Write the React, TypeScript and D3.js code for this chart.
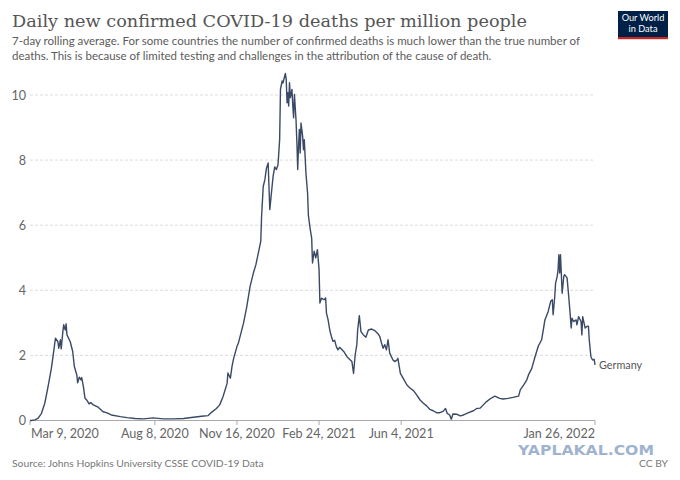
import React, { useRef, useEffect } from "react";
import * as d3 from "d3";

// days after Mar 9, 2020 and the 7-day average
const dayOffsets = [
  0, 2, 6, 10, 14, 18, 22, 26, 28, 31, 34, 35, 37, 38, 40, 41, 43, 44, 45, 49,
  52, 54, 57, 58, 60, 62, 63, 65, 67, 69, 72, 74, 77, 83, 89, 93, 99, 110, 118, 128,
  138, 150, 162, 175, 187, 199, 209, 217, 221, 227, 231, 235, 240, 241, 244, 246, 248, 252, 254, 260,
  264, 268, 272, 275, 278, 281, 282, 284, 286, 288, 290, 291, 292, 294, 296, 298, 300, 302, 304, 305,
  307, 308, 311, 312, 313, 314, 315, 316, 317, 319, 320, 321, 322, 324, 325, 326, 327, 328, 329, 330,
  332, 333, 334, 336, 338, 339, 341, 343, 344, 346, 348, 350, 352, 353, 355, 358, 360, 361, 363, 365,
  367, 369, 371, 373, 375, 377, 382, 386, 390, 392, 394, 396, 398, 399, 401, 403, 406, 409, 412, 416,
  420, 424, 426, 428, 430, 432, 434, 436, 438, 442, 444, 447, 448, 451, 455, 459, 463, 467, 471, 475,
  479, 483, 487, 491, 495, 499, 503, 506, 508, 511, 513, 515, 520, 524, 528, 534, 540, 544, 548, 552,
  556, 560, 566, 572, 576, 582, 588, 595, 597, 601, 605, 607, 611, 615, 619, 623, 625, 627, 631, 634,
  636, 637, 639, 640, 642, 643, 644, 645, 646, 648, 650, 651, 654, 656, 658, 659, 660, 662, 665, 666,
  668, 671, 672, 673, 676, 678, 680, 681, 683, 685, 687, 688,
];

const deaths = [
  0, 0, 0.02, 0.07, 0.22, 0.53, 1.04, 1.6, 1.96, 2.53, 2.42, 2.22, 2.48, 2.2, 2.73, 2.94, 2.78, 2.97, 2.63, 2.42,
  2.12, 1.66, 1.4, 1.16, 1.33, 1.25, 1.32, 1.04, 0.68, 0.63, 0.51, 0.55, 0.48, 0.41, 0.27, 0.24, 0.17, 0.12, 0.09, 0.06,
  0.05, 0.08, 0.05, 0.05, 0.06, 0.1, 0.13, 0.15, 0.25, 0.37, 0.48, 0.73, 1.14, 1.46, 1.3, 1.66, 1.91, 2.27, 2.4, 2.99,
  3.5, 4.12, 4.53, 4.78, 5.14, 5.5, 6.27, 7.19, 7.4, 7.76, 7.91, 7.19, 6.48, 6.99, 7.5, 7.79, 7.71, 7.86, 8.63, 10.17,
  10.43, 10.37, 10.66, 10.48, 9.76, 10.07, 9.66, 10.38, 9.92, 10.17, 9.66, 9.3, 10.02, 9.2, 8.53, 7.71, 8.43, 8.94, 8.22, 9.14,
  8.73, 8.32, 8.63, 7.6, 6.99, 6.3, 5.91, 5.6, 4.84, 5.2, 5.0, 5.25, 4.63, 3.61, 3.76, 3.71, 3.76, 3.3, 3.09, 2.78,
  2.58, 2.43, 2.46, 2.27, 2.17, 2.25, 2.12, 1.96, 1.86, 1.81, 1.45, 2.02, 2.33, 2.78, 3.22, 2.73, 2.63, 2.56, 2.78, 2.81,
  2.76, 2.66, 2.58, 2.38, 2.22, 2.33, 2.17, 2.48, 2.07, 1.86, 1.81, 1.86, 1.91, 1.45, 1.27, 1.09, 0.99, 0.92, 0.78, 0.63,
  0.53, 0.45, 0.34, 0.3, 0.24, 0.24, 0.28, 0.37, 0.22, 0.17, 0.04, 0.2, 0.19, 0.14, 0.17, 0.24, 0.3, 0.37, 0.38, 0.48,
  0.58, 0.66, 0.75, 0.68, 0.66, 0.68, 0.71, 0.75, 0.94, 1.09, 1.25, 1.4, 1.6, 1.96, 2.29, 2.48, 2.78, 3.09, 3.35, 3.66,
  3.71, 3.25, 3.81, 4.22, 4.43, 4.63, 5.09, 4.53, 5.09, 3.91, 4.43, 4.48, 4.38, 3.81, 3.19, 2.84, 3.14, 3.04, 3.09, 2.94,
  3.19, 3.04, 2.63, 3.19, 2.84, 2.89, 2.9, 2.48, 1.96, 1.86, 1.88, 1.71,
];

const yTicks = [0, 2, 4, 6, 8, 10];
const xTickDates = ["2020-03-09", "2020-08-08", "2020-11-16", "2021-02-24", "2021-06-04", "2022-01-26"];

const title = "Daily new confirmed COVID-19 deaths per million people";
const subtitleLines = [
  "7-day rolling average. For some countries the number of confirmed deaths is much lower than the true number of",
  "deaths. This is because of limited testing and challenges in the attribution of the cause of death.",
];
const source = "Source: Johns Hopkins University CSSE COVID-19 Data";

const W = 680;
const H = 480;
const sans = "Lato, 'Noto Sans', sans-serif";

const parseDay = d3.timeParse("%Y-%m-%d");

const App = () => {
  const divRef = useRef<HTMLDivElement>(null);

  useEffect(() => {
    const root = d3.select(divRef.current);
    root.selectAll("*").remove();

    const svg = root
      .append("svg")
      .attr("width", W)
      .attr("height", H)
      .style("position", "absolute")
      .style("left", "0px")
      .style("top", "0px")
      .style("background", "#fff");

    const start = parseDay(xTickDates[0]) as Date;
    const end = parseDay(xTickDates[xTickDates.length - 1]) as Date;

    const x = d3.scaleTime().domain([start, end]).range([30, 595]);
    const y = d3.scaleLinear().domain([0, 10]).range([420.5, 95]);

    // header
    svg
      .append("text")
      .attr("x", 12)
      .attr("y", 27)
      .attr("font-family", "'DejaVu Serif', serif")
      .attr("font-size", 17.5)
      .attr("fill", "#555")
      .attr("textLength", 515)
      .attr("lengthAdjust", "spacingAndGlyphs")
      .text(title);

    svg
      .selectAll(".sub")
      .data(subtitleLines)
      .join("text")
      .attr("x", 12)
      .attr("y", (_, i) => 45 + i * 14.5)
      .attr("font-family", sans)
      .attr("font-size", 11.5)
      .attr("fill", "#5b5b5b")
      .text((d) => d);

    // logo
    const logo = svg.append("g");
    logo.append("rect").attr("x", 618).attr("y", 11).attr("width", 50).attr("height", 28).attr("fill", "#002147");
    logo.append("rect").attr("x", 618).attr("y", 37).attr("width", 50).attr("height", 2.2).attr("fill", "#ce261e");
    logo
      .selectAll(".lg")
      .data(["Our World", "in Data"])
      .join("text")
      .attr("x", 643)
      .attr("y", (_, i) => 21 + i * 10.5)
      .attr("text-anchor", "middle")
      .attr("font-family", sans)
      .attr("font-size", 9.2)
      .attr("fill", "#fff")
      .text((d) => d);

    // grid + y labels
    svg
      .selectAll(".grid")
      .data(yTicks.filter((t) => t > 0))
      .join("line")
      .attr("x1", 30)
      .attr("x2", 595)
      .attr("y1", (d) => y(d))
      .attr("y2", (d) => y(d))
      .attr("stroke", "#ddd")
      .attr("stroke-dasharray", "3,2");

    svg
      .selectAll(".ylab")
      .data(yTicks)
      .join("text")
      .attr("x", 26)
      .attr("y", (d) => y(d))
      .attr("dy", "0.36em")
      .attr("text-anchor", "end")
      .attr("font-family", sans)
      .attr("font-size", 12.6)
      .attr("fill", "#666")
      .text((d) => d);

    // x axis
    svg.append("line").attr("x1", 30).attr("x2", 595).attr("y1", 420.5).attr("y2", 420.5).attr("stroke", "#aaa");

    const tickDates = xTickDates.map((s) => parseDay(s) as Date);
    const fmt = d3.timeFormat("%b %-d, %Y");

    svg
      .selectAll(".xt")
      .data(tickDates)
      .join("line")
      .attr("x1", (d) => x(d))
      .attr("x2", (d) => x(d))
      .attr("y1", 420.5)
      .attr("y2", 425)
      .attr("stroke", "#aaa");

    svg
      .selectAll(".xl")
      .data(tickDates)
      .join("text")
      .attr("x", (d, i) => (i === 0 ? x(d) + 1 : x(d)))
      .attr("y", 438)
      .attr("text-anchor", (_, i) => (i === 0 ? "start" : i === tickDates.length - 1 ? "end" : "middle"))
      .attr("font-family", sans)
      .attr("font-size", 12.6)
      .attr("fill", "#666")
      .text((d) => fmt(d));

    // the line
    const pts = dayOffsets.map((d, i) => ({ date: d3.timeDay.offset(start, d), v: deaths[i] }));
    const line = d3
      .line<{ date: Date; v: number }>()
      .x((d) => x(d.date))
      .y((d) => y(d.v));

    svg
      .append("path")
      .datum(pts)
      .attr("d", line)
      .attr("fill", "none")
      .attr("stroke", "#3a4a66")
      .attr("stroke-width", 1.4)
      .attr("stroke-linejoin", "round");

    const last = pts[pts.length - 1];
    svg
      .append("text")
      .attr("x", x(last.date) + 4)
      .attr("y", y(last.v))
      .attr("dy", "0.35em")
      .attr("font-family", sans)
      .attr("font-size", 10.8)
      .attr("fill", "#555")
      .text("Germany");

    // footer
    svg
      .append("text")
      .attr("x", 12)
      .attr("y", 466.5)
      .attr("font-family", sans)
      .attr("font-size", 10.3)
      .attr("fill", "#777")
      .text(source);

    svg
      .append("text")
      .attr("x", 668)
      .attr("y", 467)
      .attr("text-anchor", "end")
      .attr("font-family", sans)
      .attr("font-size", 10.3)
      .attr("fill", "#777")
      .text("CC BY");

    svg
      .append("text")
      .attr("x", 518)
      .attr("y", 455)
      .attr("font-family", "'DejaVu Sans', sans-serif")
      .attr("font-weight", "bold")
      .attr("font-size", 14.5)
      .attr("fill", "#9fb3cf")
      .attr("textLength", 136)
      .attr("lengthAdjust", "spacingAndGlyphs")
      .text("YAPLAKAL.COM");
  }, []);

  return <div id="owid-deaths-chart" ref={divRef}></div>;
};

export default App;
